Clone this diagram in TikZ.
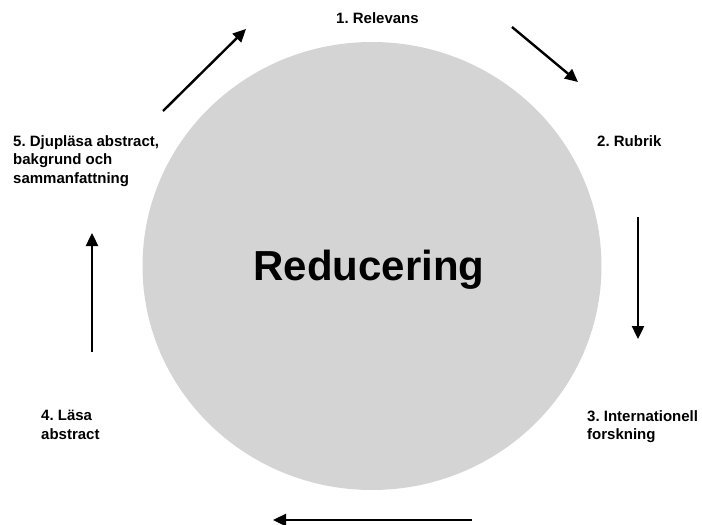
\documentclass[tikz,border=0pt]{standalone}
\usepackage{fontspec}
\setmainfont{Liberation Sans}
\usetikzlibrary{arrows.meta}
\definecolor{discgray}{RGB}{212,212,212}
\frenchspacing
\tikzset{
  steplabel/.style={font=\bfseries\fontsize{15}{18.5}\selectfont, align=left, inner sep=0pt, anchor=north west},
  cyclearrow/.style={line width=2.4pt, -{Triangle[length=13pt,width=12pt]}}
}
\begin{document}
\begin{tikzpicture}[x=1pt,y=-1pt]
			\useasboundingbox (0,0) rectangle (702,525);
			% disc
			\fill[discgray] (372,266) ellipse [x radius=229.5, y radius=224];
			\node[font=\bfseries\fontsize{42}{50}\selectfont, inner sep=0pt, anchor=base] (reducering) at (369,280) {Reducering};
			% step labels
			\node[steplabel] (relevans) at (336,12) {1. Relevans};
			\node[steplabel] (rubrik) at (597,135) {2. Rubrik};
			\node[steplabel] (internationell) at (587,410) {3. Internationell\\forskning};
			\node[steplabel] (lasa) at (41,410) {4. Läsa\\abstract};
			\node[steplabel] (djuplasa) at (13,135) {5. Djupläsa abstract,\\bakgrund och\\sammanfattning};
			% arrow ends
			\coordinate (tlA) at (163,111);
			\coordinate (tlB) at (246,29);
			\coordinate (trA) at (512,27);
			\coordinate (trB) at (578,82);
			\coordinate (rtA) at (638,217);
			\coordinate (rtB) at (638,339);
			\coordinate (btA) at (472,520);
			\coordinate (btB) at (273,520);
			\coordinate (ltA) at (92,352);
			\coordinate (ltB) at (92,233);
			% arrows
			\draw[cyclearrow] (trA) -- (trB);
			\draw[cyclearrow] (rtA) -- (rtB);
			\draw[cyclearrow] (btA) -- (btB);
			\draw[cyclearrow] (ltA) -- (ltB);
			\draw[cyclearrow] (tlA) -- (tlB);
		\end{tikzpicture}
\end{document}
